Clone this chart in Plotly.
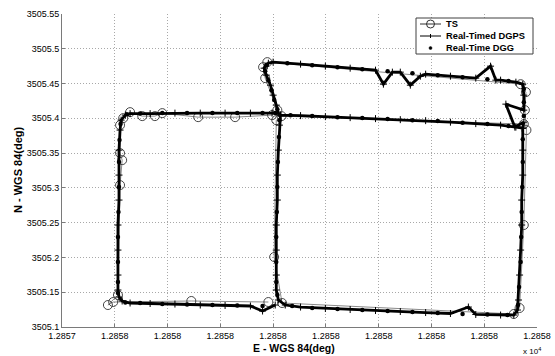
import plotly.graph_objects as go

# ---------------- data (E in deg x 10^4 scale units, N in deg) ----------------
x_ticks = [12857.4, 12857.5, 12857.6, 12857.7, 12857.8, 12857.9, 12858.0, 12858.1, 12858.2, 12858.3]
x_labels = ["1.2857", "1.2858", "1.2858", "1.2858", "1.2858", "1.2858", "1.2858", "1.2858", "1.2858", "1.2858"]
y_ticks = [3505.1, 3505.15, 3505.2, 3505.25, 3505.3, 3505.35, 3505.4, 3505.45, 3505.5, 3505.55]
y_labels = ["3505.1", "3505.15", "3505.2", "3505.25", "3505.3", "3505.35", "3505.4", "3505.45", "3505.5", "3505.55"]

ts_e = [12857.791, 12857.645, 12857.497, 12857.487, 12857.506, 12857.510, 12857.514, 12857.510, 12857.510, 12857.516,
        12857.529, 12857.552, 12857.576, 12857.590, 12857.658, 12857.728, 12857.798, 12857.808, 12857.785, 12857.781,
        12857.789, 12858.269, 12858.279, 12858.277, 12858.280, 12858.275, 12858.267, 12858.256, 12857.817, 12857.802,
        12857.806, 12857.816, 12858.275]
ts_n = [3505.1359, 3505.1374, 3505.1359, 3505.1316, 3505.1460, 3505.3040, 3505.3399, 3505.3500, 3505.3902, 3505.4003,
        3505.4089, 3505.4032, 3505.4032, 3505.4075, 3505.4017, 3505.4017, 3505.4046, 3505.4118, 3505.4578, 3505.4736,
        3505.4808, 3505.4491, 3505.4377, 3505.4118, 3505.3831, 3505.2466, 3505.1273, 3505.1187, 3505.1345, 3505.2006,
        3505.3974, 3505.4032, 3505.3917]

dgps_e = [12857.804, 12857.780, 12857.757, 12857.709, 12857.662, 12857.614, 12857.567, 12857.529, 12857.514, 12857.508,
          12857.506, 12857.506, 12857.506, 12857.506, 12857.508, 12857.508, 12857.508, 12857.510, 12857.512, 12857.520,
          12857.529, 12857.567, 12857.614, 12857.662, 12857.709, 12857.757, 12857.798, 12857.810, 12857.806, 12857.800,
          12857.795, 12857.787, 12857.783, 12857.791, 12857.800, 12857.852, 12857.899, 12857.946, 12857.994, 12858.009,
          12858.026, 12858.041, 12858.060, 12858.079, 12858.089, 12858.136, 12858.184, 12858.212, 12858.222, 12858.231,
          12858.260, 12858.273, 12858.275, 12858.275, 12858.241, 12858.258, 12858.275, 12858.273, 12858.273, 12858.273,
          12858.271, 12858.271, 12858.269, 12858.267, 12858.265, 12858.263, 12858.256, 12858.231, 12858.184, 12858.170,
          12858.136, 12858.089, 12858.041, 12857.994, 12857.946, 12857.899, 12857.852, 12857.823, 12857.810, 12857.806,
          12857.806, 12857.806, 12857.806, 12857.808, 12857.808, 12857.810, 12857.812, 12857.814, 12857.852, 12857.899,
          12857.946, 12857.994, 12858.041, 12858.089, 12858.136, 12858.184, 12858.231, 12858.260, 12858.273]
dgps_n = [3505.1316, 3505.1230, 3505.1302, 3505.1309, 3505.1316, 3505.1330, 3505.1338, 3505.1345, 3505.1374, 3505.1431,
          3505.1532, 3505.1747, 3505.2106, 3505.2466, 3505.2825, 3505.3184, 3505.3543, 3505.3831, 3505.3974, 3505.4046,
          3505.4068, 3505.4068, 3505.4075, 3505.4075, 3505.4075, 3505.4075, 3505.4075, 3505.4075, 3505.4190, 3505.4333,
          3505.4477, 3505.4621, 3505.4721, 3505.4793, 3505.4808, 3505.4779, 3505.4750, 3505.4721, 3505.4693, 3505.4491,
          3505.4664, 3505.4664, 3505.4477, 3505.4606, 3505.4635, 3505.4606, 3505.4578, 3505.4750, 3505.4549, 3505.4549,
          3505.4520, 3505.4491, 3505.4333, 3505.4118, 3505.4204, 3505.3874, 3505.3945, 3505.3859, 3505.3543, 3505.3184,
          3505.2825, 3505.2466, 3505.2106, 3505.1747, 3505.1388, 3505.1244, 3505.1172, 3505.1172, 3505.1180, 3505.1287,
          3505.1194, 3505.1208, 3505.1223, 3505.1237, 3505.1251, 3505.1266, 3505.1287, 3505.1316, 3505.1388, 3505.1532,
          3505.1747, 3505.2106, 3505.2466, 3505.2825, 3505.3184, 3505.3543, 3505.3902, 3505.4046, 3505.4039, 3505.4024,
          3505.4010, 3505.3996, 3505.3981, 3505.3967, 3505.3945, 3505.3924, 3505.3902, 3505.3874, 3505.3859]

dgg_e = [12857.780, 12857.732, 12857.685, 12857.637, 12857.590, 12857.548, 12857.520,
         12857.506, 12857.506, 12857.506, 12857.506, 12857.507, 12857.508, 12857.508, 12857.509, 12857.511,
         12857.523, 12857.548, 12857.590, 12857.637, 12857.685, 12857.732, 12857.780, 12857.804,
         12857.808, 12857.802, 12857.797, 12857.791, 12857.785, 12857.787,
         12857.827, 12857.874, 12857.922, 12857.969, 12858.017, 12858.064, 12858.112, 12858.159, 12858.206, 12858.246,
         12858.275, 12858.275, 12858.275,
         12858.273, 12858.273, 12858.272, 12858.271, 12858.270, 12858.269, 12858.266, 12858.264,
         12858.244, 12858.206, 12858.159, 12858.112, 12858.064, 12858.017, 12857.969, 12857.922, 12857.874, 12857.836,
         12857.808, 12857.806, 12857.806, 12857.806, 12857.807, 12857.808, 12857.809, 12857.811, 12857.812,
         12857.833, 12857.874, 12857.922, 12857.969, 12858.017, 12858.064, 12858.112, 12858.159, 12858.206, 12858.246]
dgg_n = [3505.1302, 3505.1309, 3505.1316, 3505.1323, 3505.1330, 3505.1345, 3505.1352,
         3505.1489, 3505.1647, 3505.1934, 3505.2293, 3505.2652, 3505.3012, 3505.3371, 3505.3687, 3505.3917,
         3505.4060, 3505.4068, 3505.4075, 3505.4075, 3505.4075, 3505.4075, 3505.4075, 3505.4075,
         3505.4132, 3505.4262, 3505.4405, 3505.4549, 3505.4678, 3505.4764,
         3505.4793, 3505.4764, 3505.4736, 3505.4707, 3505.4678, 3505.4649, 3505.4621, 3505.4592, 3505.4563, 3505.4535,
         3505.4420, 3505.4233, 3505.4032,
         3505.3701, 3505.3371, 3505.3012, 3505.2652, 3505.2293, 3505.1934, 3505.1575, 3505.1316,
         3505.1172, 3505.1180, 3505.1187, 3505.1201, 3505.1216, 3505.1230, 3505.1244, 3505.1259, 3505.1273, 3505.1302,
         3505.1460, 3505.1647, 3505.1934, 3505.2293, 3505.2652, 3505.3012, 3505.3371, 3505.3730, 3505.3974,
         3505.4046, 3505.4032, 3505.4017, 3505.4003, 3505.3989, 3505.3974, 3505.3960, 3505.3938, 3505.3917, 3505.3888]

series_names = ["TS", "Real-Timed DGPS", "Real-Time DGG"]

FONT = "Liberation Sans, Arial, Helvetica, sans-serif"

fig = go.Figure()
fig.add_trace(go.Scatter(
    x=ts_e, y=ts_n, mode="lines+markers", name=series_names[0], showlegend=False,
    line=dict(color="#8a8a8a", width=1),
    marker=dict(symbol="circle-open", size=9, color="#454545", line=dict(width=1, color="#454545")),
))
fig.add_trace(go.Scatter(
    x=dgps_e, y=dgps_n, mode="lines+markers", name=series_names[1], showlegend=False,
    line=dict(color="black", width=2.8),
    marker=dict(symbol="cross-thin", size=5, color="black", line=dict(width=1, color="black")),
))
fig.add_trace(go.Scatter(
    x=dgg_e, y=dgg_n, mode="markers", name=series_names[2], showlegend=False,
    marker=dict(symbol="circle", size=4.5, color="black"),
))

# ---------------- manual MATLAB-style legend ----------------
PW, PH, L, B = 475.0, 313.0, 62.0, 327.0
def px(xp):
    return (xp - L) / PW
def py(yp):
    return (B - yp) / PH

shapes = [
    dict(type="rect", xref="paper", yref="paper", x0=px(416), x1=px(533), y0=py(54), y1=py(18),
         line=dict(color="#404040", width=1), fillcolor="white", layer="above"),
]
row_y = [24, 36, 48]
# TS sample
shapes.append(dict(type="line", xref="paper", yref="paper", x0=px(420), x1=px(441), y0=py(row_y[0]), y1=py(row_y[0]),
                   line=dict(color="#303030", width=1), layer="above"))
shapes.append(dict(type="circle", xref="paper", yref="paper", xsizemode="pixel", ysizemode="pixel",
                   xanchor=px(430.5), yanchor=py(row_y[0]), x0=-4, x1=4, y0=-4, y1=4,
                   line=dict(color="#303030", width=1), fillcolor="rgba(0,0,0,0)", layer="above"))
# DGPS sample
shapes.append(dict(type="line", xref="paper", yref="paper", x0=px(420), x1=px(441), y0=py(row_y[1]), y1=py(row_y[1]),
                   line=dict(color="black", width=1), layer="above"))
shapes.append(dict(type="line", xref="paper", yref="paper", x0=px(430.5), x1=px(430.5), y0=py(row_y[1] - 2), y1=py(row_y[1] + 2),
                   line=dict(color="black", width=1), layer="above"))
# DGG sample
shapes.append(dict(type="circle", xref="paper", yref="paper", xsizemode="pixel", ysizemode="pixel",
                   xanchor=px(430.5), yanchor=py(row_y[2]), x0=-1.5, x1=1.5, y0=-1.5, y1=1.5,
                   line=dict(color="black", width=0.5), fillcolor="black", layer="above"))

annotations = []
for name, ry in zip(series_names, row_y):
    annotations.append(dict(text="<b>%s</b>" % name, xref="paper", yref="paper", x=px(444), y=py(ry),
                            xanchor="left", yanchor="middle", showarrow=False,
                            font=dict(family=FONT, size=9.3, color="black")))

annotations.append(dict(text="<b>E - WGS 84(deg)</b>", xref="paper", yref="paper", x=px(294), y=py(348),
                        xanchor="center", yanchor="middle", showarrow=False,
                        font=dict(family=FONT, size=10.5, color="black")))
annotations.append(dict(text="<b>N - WGS 84(deg)</b>", xref="paper", yref="paper", x=px(18), y=py(170),
                        xanchor="center", yanchor="middle", showarrow=False, textangle=-90,
                        font=dict(family=FONT, size=11, color="black")))
annotations.append(dict(text="x 10<sup>4</sup>", xref="paper", yref="paper", x=px(521), y=py(351),
                        xanchor="left", yanchor="middle", showarrow=False,
                        font=dict(family=FONT, size=8, color="black")))

axis_common = dict(
    showgrid=True, gridcolor="#a8a8a8", griddash="1px,2px", gridwidth=1,
    showline=True, linecolor="#7a7a7a", linewidth=1, mirror=False,
    zeroline=False, ticks="inside", ticklen=3, tickcolor="#7a7a7a",
    tickfont=dict(family=FONT, size=9, color="black"), automargin=False,
)

fig.update_layout(
    width=555, height=356, autosize=False,
    margin=dict(l=62, r=18, t=14, b=29),
    paper_bgcolor="white", plot_bgcolor="white",
    xaxis=dict(range=[12857.4, 12858.3], tickvals=x_ticks, ticktext=x_labels, **axis_common),
    yaxis=dict(range=[3505.1, 3505.55], tickvals=y_ticks, ticktext=y_labels, **axis_common),
    shapes=shapes, annotations=annotations, showlegend=False,
    font=dict(family=FONT, size=9, color="black"),
)

fig.write_html(
    "out.html",
    config={"displayModeBar": False},
    post_script="document.body.style.margin='0';document.body.style.padding='0';"
                "document.documentElement.style.overflow='hidden';",
)
